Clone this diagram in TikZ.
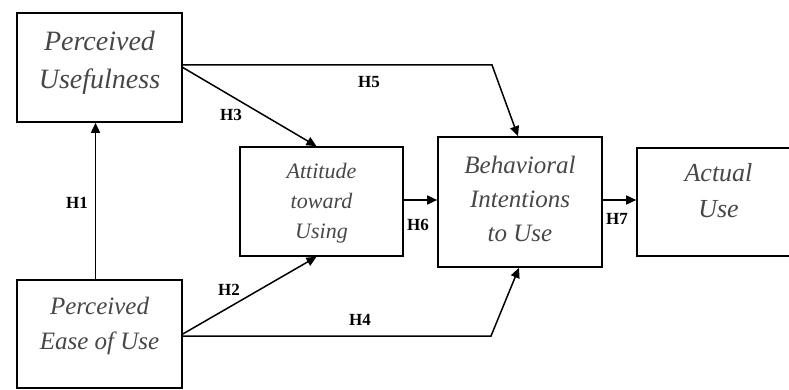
\documentclass[tikz,border=0pt]{standalone}
\usepackage{fontspec}
\setmainfont{Liberation Serif}
\usetikzlibrary{arrows.meta,calc}
\begin{document}
\begin{tikzpicture}[x=1pt,y=-1pt,
  box/.style={draw, line width=1.6pt, inner sep=0pt},
  construct/.style n args={2}{align=center, inner sep=0pt, text=black!72,
    font=\fontsize{#1}{#2}\selectfont\itshape},
  hlab/.style={inner sep=0pt, font=\fontsize{17}{17}\selectfont\bfseries},
  link/.style={line width=1.5pt, -{Triangle[length=10pt,width=9pt]}}]
\clip (0,0) rectangle (789,390);
\fill[white] (0,0) rectangle (789,390);

% construct boxes
\node[box, minimum width=165pt, minimum height=109pt] (pu) at (99.5,67.5) {};
\node[box, minimum width=165pt, minimum height=108pt] (peou) at (99.5,334) {};
\node[box, minimum width=163pt, minimum height=109pt] (atu) at (321.5,201.5) {};
\node[box, minimum width=164pt, minimum height=130pt] (bi) at (520,202) {};
\node[box, minimum width=163pt, minimum height=108pt] (au) at (718.5,202) {};

% construct names
\node[construct={28}{38}] (pu-t) at (99.5,63) {Perceived\\Usefulness};
\node[construct={25}{35}] (peou-t) at (99.5,326) {Perceived\\Ease of Use};
\node[construct={22}{30}] (atu-t) at (321.5,203) {Attitude\\toward\\Using};
\node[construct={25}{34}] (bi-t) at (520,199) {Behavioral\\Intentions\\to Use};
\node[construct={26}{36}] (au-t) at (718.5,191) {Actual\\Use};

% bend points of the long paths
\coordinate (h5bend) at (492,65);
\coordinate (h4bend) at (491,336);

% hypothesised paths
\draw[link] ([xshift=-4pt]peou.north) -- ([xshift=-4pt]pu.south);
\draw[link] (peou.east) -- ([xshift=-5pt]atu.south);
\draw[link] (pu.east) -- ([xshift=-5pt]atu.north);
\draw[link] (peou.east |- h4bend) -- (h4bend) -- ([xshift=-1pt]bi.south);
\draw[link] (pu.east |- h5bend) -- (h5bend) -- ([xshift=-2pt]bi.north);
\draw[link] (atu.east |- 0,200) -- (bi.west |- 0,200);
\draw[link] (bi.east |- 0,200) -- (au.west |- 0,200);

% hypothesis labels
\node[hlab] (h1) at (77,203) {H1};
\node[hlab] (h2) at (229,290) {H2};
\node[hlab] (h3) at (231,115) {H3};
\node[hlab] (h4) at (360,320) {H4};
\node[hlab] (h5) at (369,82) {H5};
\node[hlab] (h6) at (418,225) {H6};
\node[hlab] (h7) at (617,219) {H7};
\end{tikzpicture}
\end{document}
